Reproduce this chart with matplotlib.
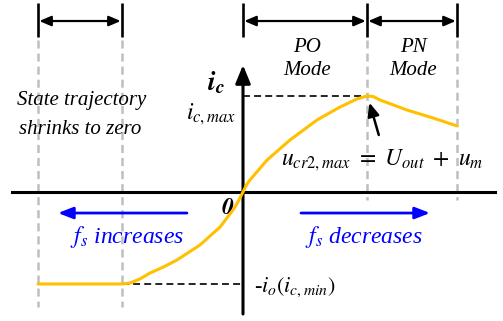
import matplotlib
matplotlib.use("Agg")
import matplotlib.pyplot as plt

plt.rcParams['mathtext.fontset'] = 'stix'
plt.rcParams['font.family'] = ['Liberation Serif', 'DejaVu Serif']
plt.rcParams['lines.scale_dashes'] = False

# Zone boundaries along the horizontal axis (normalised units)
zone_bounds = [-1.653, -0.976, 0.0, 1.0, 1.726]
ic_max = 1.0
ic_min = -0.958

# Capacitor-current trajectory i_c
curve_x = [-1.653, -0.976, -0.91, -0.83, -0.75, -0.64, -0.532, -0.347, -0.185,
           -0.081, -0.048, 0.0, 0.032, 0.056, 0.194, 0.379, 0.597, 0.782, 0.919,
           1.0, 1.05, 1.105, 1.323, 1.532, 1.726]
curve_y = [-0.958, -0.958, -0.948, -0.905, -0.844, -0.78, -0.708, -0.552, -0.365,
           -0.188, -0.12, 0.0, 0.083, 0.125, 0.333, 0.542, 0.75, 0.885, 0.969,
           1.0, 0.995, 0.958, 0.854, 0.771, 0.688]

W, H = 503, 321
fig = plt.figure(figsize=(W / 100, H / 100), dpi=100)
ax = fig.add_axes([0, 0, 1, 1])
ax.set_xlim(-243 / 124, (W - 243) / 124)
ax.set_ylim(-(H - 192) / 96, 192 / 96)
ax.axis('off')

black = 'black'
gray = '#BFBFBF'
gold = '#FFC000'
blue = '#0000FF'

# gray dashed guides below the zone markers
for xb in zone_bounds:
    if xb == 0.0:
        continue
    y_low = -1.198 if xb < 0 else -0.083
    ax.plot([xb, xb], [1.583, y_low], color=gray, lw=1.8, dashes=(5.8, 3.6),
            solid_capstyle='butt', dash_capstyle='butt', zorder=1)

# zone markers and double arrows across the top
for xb in zone_bounds:
    ax.plot([xb, xb], [1.969, 1.615], color=black, lw=1.9,
            solid_capstyle='butt', zorder=3)
for a, b in [(zone_bounds[0], zone_bounds[1]), (zone_bounds[2], zone_bounds[3]),
             (zone_bounds[3], zone_bounds[4])]:
    ax.annotate('', xy=(b - 0.01, 1.781), xytext=(a + 0.01, 1.781),
                arrowprops=dict(arrowstyle='<|-|>,head_length=0.7,head_width=0.3',
                                color=black, lw=1.6, shrinkA=0, shrinkB=0))

# coordinate axes
ax.plot([-1.863, 2.032], [0, 0], color=black, lw=2.2, zorder=2)
ax.annotate('', xy=(0, 1.323), xytext=(0, -1.271),
            arrowprops=dict(arrowstyle='-|>,head_length=1.1,head_width=0.45',
                            color=black, lw=2.2, shrinkA=0, shrinkB=0), zorder=2)

# reference levels
ax.plot([0, zone_bounds[3]], [ic_max, ic_max], color=black, lw=1.2,
        dashes=(5, 3), zorder=2)
ax.plot([zone_bounds[1], 0], [ic_min, ic_min], color=black, lw=1.2,
        dashes=(5, 3), zorder=2)

# trajectory
ax.plot(curve_x, curve_y, color=gold, lw=2.2, solid_joinstyle='round',
        solid_capstyle='round', zorder=4)

# labels
ax.text(-0.218, 1.14, r'$\mathbfit{i_c}$', fontsize=20, ha='center', va='center')
ax.text(-0.258, 0.81, r'$i_{c,max}$', fontsize=17, ha='center', va='center')
ax.text(-1.298, 0.958, 'State trajectory', fontsize=15, style='italic',
        ha='center', va='center')
ax.text(-1.315, 0.656, 'shrinks to zero', fontsize=15, style='italic',
        ha='center', va='center')
ax.text(0.516, 1.51, 'PO', fontsize=15, style='italic', ha='center', va='center')
ax.text(0.516, 1.27, 'Mode', fontsize=15, style='italic', ha='center', va='center')
ax.text(1.371, 1.51, 'PN', fontsize=15, style='italic', ha='center', va='center')
ax.text(1.371, 1.27, 'Mode', fontsize=15, style='italic', ha='center', va='center')
ax.text(1.12, 0.33, r'$u_{cr2,max}\ =\ U_{out}\ +\ u_m$', fontsize=17,
        ha='center', va='center')
ax.text(-0.121, -0.167, r'$\mathbfit{0}$', fontsize=17, ha='center', va='center')
ax.text(0.419, -0.99, r'-$i_o(i_{c,min})$', fontsize=16, ha='center', va='center')

# small pointer to the peak
ax.annotate('', xy=(1.02, 0.93), xytext=(1.095, 0.594),
            arrowprops=dict(arrowstyle='-|>,head_length=0.8,head_width=0.35',
                            color=black, lw=1.8, shrinkA=0, shrinkB=0))

# switching-frequency direction arrows
ax.annotate('', xy=(-1.492, -0.219), xytext=(-0.452, -0.219),
            arrowprops=dict(arrowstyle='-|>,head_length=0.9,head_width=0.35',
                            color=blue, lw=2.0, shrinkA=0, shrinkB=0))
ax.annotate('', xy=(1.508, -0.219), xytext=(0.468, -0.219),
            arrowprops=dict(arrowstyle='-|>,head_length=0.9,head_width=0.35',
                            color=blue, lw=2.0, shrinkA=0, shrinkB=0))
ax.text(-0.935, -0.469, r'$f_s$ increases', fontsize=17, style='italic',
        color=blue, ha='center', va='center')
ax.text(0.976, -0.469, r'$f_s$ decreases', fontsize=17, style='italic',
        color=blue, ha='center', va='center')

fig.savefig('out.png', dpi=100)
